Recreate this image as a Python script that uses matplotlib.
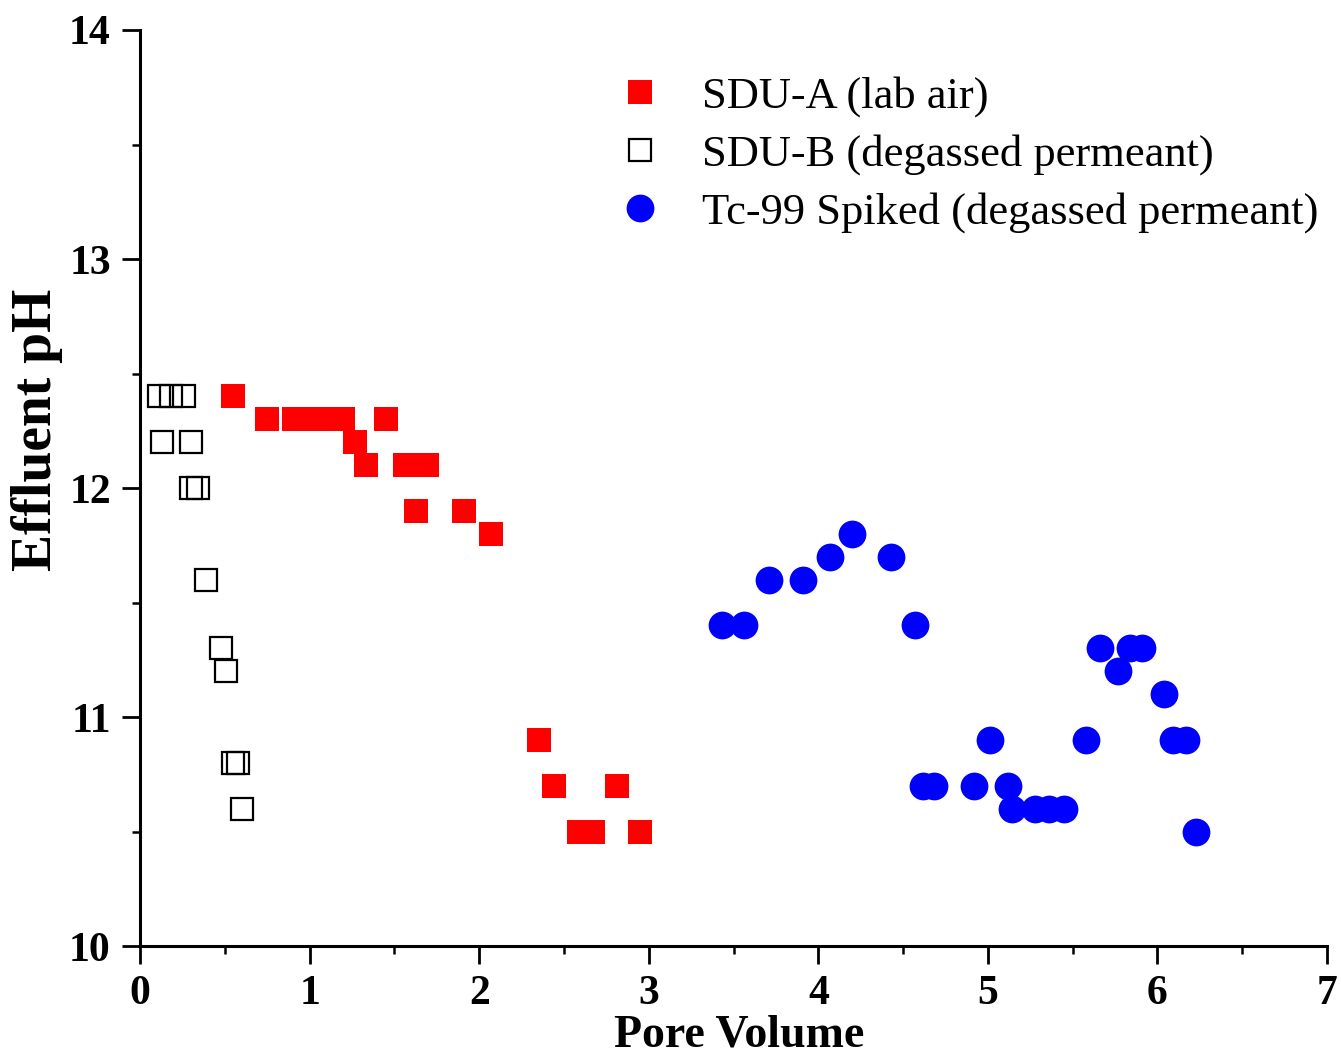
import matplotlib.pyplot as plt
from matplotlib.ticker import MultipleLocator

plt.rcParams['font.family'] = ['Liberation Serif', 'DejaVu Serif']

# SDU-A (lab air)
sdu_a_pv = [0.55, 0.75, 0.91, 1.00, 1.10, 1.20, 1.45, 1.27, 1.33, 1.56, 1.63, 1.69,
            1.63, 1.91, 2.07, 2.35, 2.44, 2.81, 2.59, 2.67, 2.95]
sdu_a_ph = [12.4, 12.3, 12.3, 12.3, 12.3, 12.3, 12.3, 12.2, 12.1, 12.1, 12.1, 12.1,
            11.9, 11.9, 11.8, 10.9, 10.7, 10.7, 10.5, 10.5, 10.5]

# SDU-B (degassed permeant)
sdu_b_pv = [0.11, 0.18, 0.26, 0.13, 0.30, 0.30, 0.34, 0.39, 0.48, 0.51, 0.55, 0.58, 0.60]
sdu_b_ph = [12.4, 12.4, 12.4, 12.2, 12.2, 12.0, 12.0, 11.6, 11.3, 11.2, 10.8, 10.8, 10.6]

# Tc-99 spiked (degassed permeant)
tc_pv = [3.43, 3.56, 3.71, 3.91, 4.07, 4.20, 4.43, 4.57, 4.62, 4.68, 4.92, 5.01,
         5.12, 5.14, 5.28, 5.36, 5.45, 5.58, 5.66, 5.77, 5.84, 5.91, 6.04, 6.09,
         6.17, 6.23]
tc_ph = [11.4, 11.4, 11.6, 11.6, 11.7, 11.8, 11.7, 11.4, 10.7, 10.7, 10.7, 10.9,
         10.7, 10.6, 10.6, 10.6, 10.6, 10.9, 11.3, 11.2, 11.3, 11.3, 11.1, 10.9,
         10.9, 10.5]

fig = plt.figure(figsize=(13.41, 10.6), dpi=100)
ax = fig.add_axes([0.1044, 0.1075, 0.8852, 0.8642])

ax.plot(sdu_a_pv, sdu_a_ph, 's', color='#ff0000', markersize=17, markeredgewidth=0,
        label='SDU-A (lab air)', clip_on=False)
ax.plot(sdu_b_pv, sdu_b_ph, 's', markerfacecolor='none', markeredgecolor='black',
        markersize=16, markeredgewidth=1.6, label='SDU-B (degassed permeant)', clip_on=False)
ax.plot(tc_pv, tc_ph, 'o', color='#0000ff', markersize=20, markeredgewidth=0,
        label='Tc-99 Spiked (degassed permeant)', clip_on=False)

ax.set_xlim(0, 7)
ax.set_ylim(10, 14)
ax.xaxis.set_major_locator(MultipleLocator(1))
ax.xaxis.set_minor_locator(MultipleLocator(0.5))
ax.yaxis.set_major_locator(MultipleLocator(1))
ax.yaxis.set_minor_locator(MultipleLocator(0.5))

for s in ['top', 'right']:
    ax.spines[s].set_visible(False)
for s in ['left', 'bottom']:
    ax.spines[s].set_linewidth(2.2)

ax.tick_params(which='major', direction='out', length=13, width=2, labelsize=30, pad=8)
ax.tick_params(which='minor', direction='out', length=6, width=1.8)
for lbl in ax.get_xticklabels() + ax.get_yticklabels():
    lbl.set_fontweight('bold')

ax.set_xlabel('Pore Volume', fontsize=33, fontweight='bold')
ax.set_ylabel('Effluent pH', fontsize=40, fontweight='bold')
ax.xaxis.set_label_coords(0.505, -0.075)
ax.yaxis.set_label_coords(-0.065, 0.563)

ax.legend(loc='upper left', bbox_to_anchor=(0.3765, 0.984), frameon=False, fontsize=32,
          handlelength=1.0, handletextpad=0.9, labelspacing=0.39, borderaxespad=0.3)

fig.savefig('out.png', dpi=100)
